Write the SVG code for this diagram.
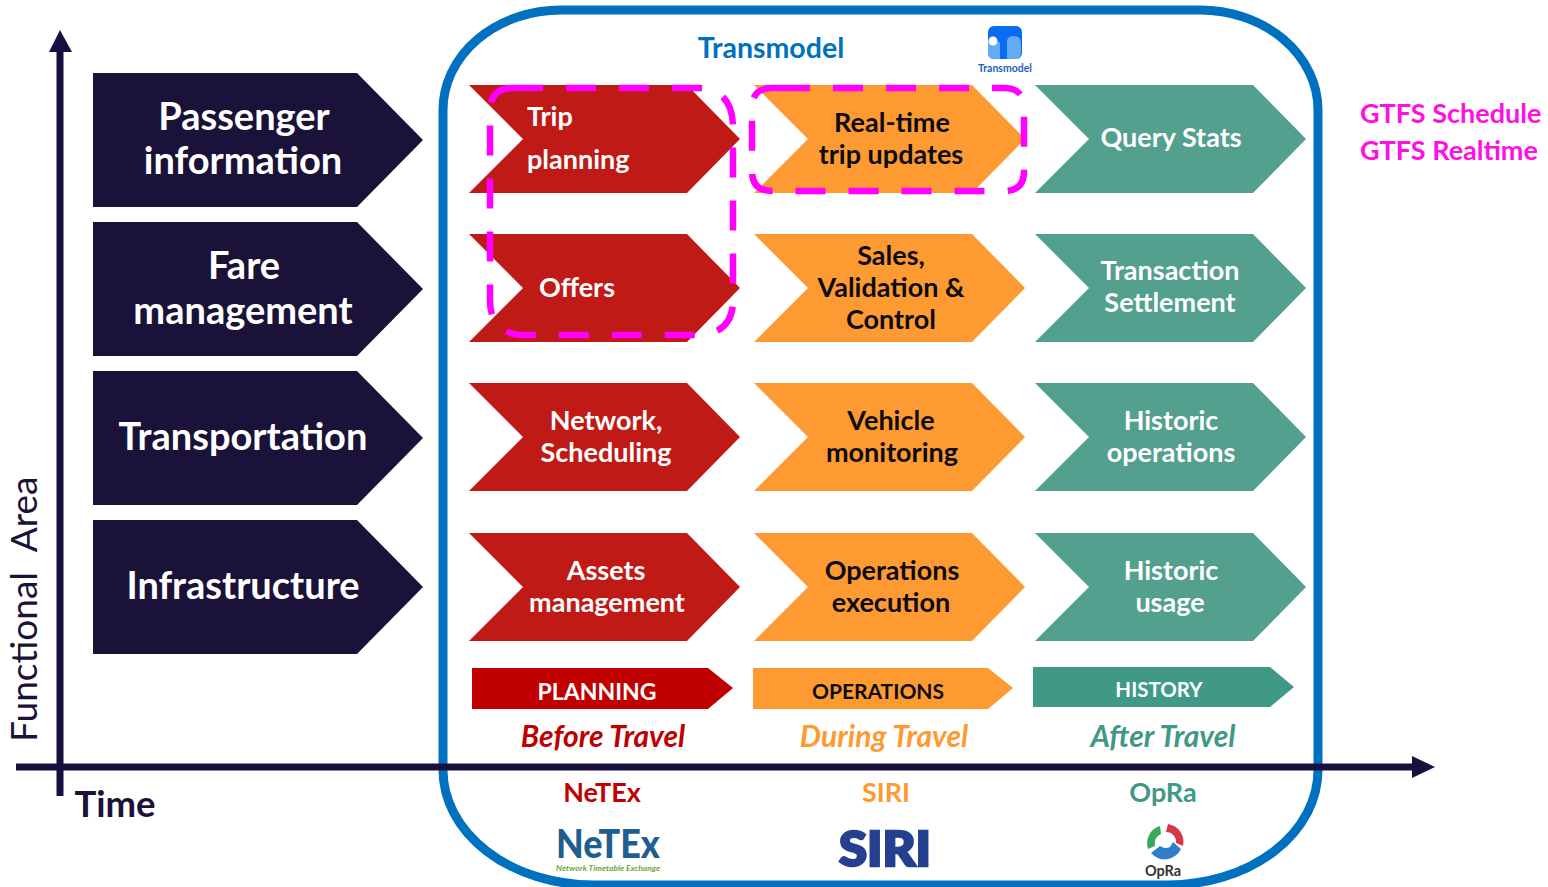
<svg xmlns="http://www.w3.org/2000/svg" width="1548" height="887" viewBox="0 0 1548 887">
<style>
text{font-family:"Lato","Carlito","Open Sans",sans-serif;font-weight:700;text-anchor:middle}
.dk{fill:#1a1238}.red{fill:#c01a17}.org{fill:#fe9a32}.grn{fill:#53a08e}
.big{font-size:38px;fill:#fff}.w{font-size:27px;fill:#fff}.b{font-size:27px;fill:#0c0c0c}
.i{font-size:30px;font-style:italic}.h{font-size:27px}
.mag{fill:none;stroke:#f0f;stroke-width:6.500;stroke-dasharray:30 23}
.ax{fill:none;stroke:#1a1040;stroke-width:7}
.l{font-size:27px;fill:#ff10e0;text-anchor:start}
</style>
<defs>
<path id="dark" d="M0 0H264L330 67L264 134H0Z"/>
<path id="chev" d="M0 0H218L271 54L218 108H0L54 54Z"/>
</defs>
<rect width="1548" height="887" fill="#fff"/>
<g id="connectors">
<path class="ax" d="M60 45V796"/><path d="M49 52L60 30L72 52Z" fill="#1a1040"/>
</g>
<g id="frame"><path d="M561 10H1200A118 100 0 0 1 1318 110V770A150 115 0 0 1 1168 885H593A150 115 0 0 1 443 770V110A118 100 0 0 1 561 10Z" fill="none" stroke="#0070c0" stroke-width="9"/></g>
<g id="connectors2"><path class="ax" d="M16 767H1415"/><path d="M1412 756L1435 767L1412 778Z" fill="#1a1040"/></g>
<g id="a-passenger"><use href="#dark" class="dk" x="93" y="73"/><text class="big" x="244" y="130">Passenger</text><text class="big" x="243" y="174">information</text></g>
<g id="a-fare"><use href="#dark" class="dk" x="93" y="222"/><text class="big" x="244" y="279">Fare</text><text class="big" x="243" y="324">management</text></g>
<g id="a-transport"><use href="#dark" class="dk" x="93" y="371"/><text class="big" x="243" y="450">Transportation</text></g>
<g id="a-infra"><use href="#dark" class="dk" x="93" y="520"/><text class="big" x="243" y="599">Infrastructure</text></g>

<g id="n-trip"><use href="#chev" class="red" x="469" y="85"/><text class="w" x="527" y="126" style="text-anchor:start">Trip</text><text class="w" x="527" y="169" style="text-anchor:start">planning</text></g>
<g id="n-offers"><use href="#chev" class="red" x="469" y="234"/><text class="w" x="577" y="297">Offers</text></g>
<g id="n-network"><use href="#chev" class="red" x="469" y="383"/><text class="w" x="606" y="430">Network,</text><text class="w" x="606" y="462">Scheduling</text></g>
<g id="n-assets"><use href="#chev" class="red" x="469" y="533"/><text class="w" x="606" y="580">Assets</text><text class="w" x="607" y="612">management</text></g>

<g id="n-realtime"><use href="#chev" class="org" x="754" y="85"/><text class="b" x="892" y="132">Real-time</text><text class="b" x="891" y="164">trip updates</text></g>
<g id="n-sales"><use href="#chev" class="org" x="754" y="234"/><text class="b" x="891" y="265">Sales,</text><text class="b" x="891" y="297">Validation &amp;</text><text class="b" x="891" y="329">Control</text></g>
<g id="n-vehicle"><use href="#chev" class="org" x="754" y="383"/><text class="b" x="891" y="430">Vehicle</text><text class="b" x="892" y="462">monitoring</text></g>
<g id="n-opexec"><use href="#chev" class="org" x="754" y="533"/><text class="b" x="892" y="580">Operations</text><text class="b" x="891" y="612">execution</text></g>

<g id="n-query"><use href="#chev" class="grn" x="1035" y="85"/><text class="w" x="1171" y="147">Query Stats</text></g>
<g id="n-transaction"><use href="#chev" class="grn" x="1035" y="234"/><text class="w" x="1170" y="280">Transaction</text><text class="w" x="1170" y="312">Settlement</text></g>
<g id="n-histop"><use href="#chev" class="grn" x="1035" y="383"/><text class="w" x="1171" y="430">Historic</text><text class="w" x="1171" y="462">operations</text></g>
<g id="n-histus"><use href="#chev" class="grn" x="1035" y="533"/><text class="w" x="1171" y="580">Historic</text><text class="w" x="1170" y="612">usage</text></g>

<g id="b-planning"><path d="M472 668H708L733 688L708 709H472Z" fill="#c00000"/><text x="597" y="700" font-size="23" fill="#fff">PLANNING</text></g>
<g id="b-operations"><path d="M753 668H988L1013 688L988 709H753Z" fill="#fe9a32"/><text x="878" y="699" font-size="21" fill="#0c0c0c">OPERATIONS</text></g>
<g id="b-history"><path d="M1033 667H1270L1294 687L1270 707H1033Z" fill="#409887"/><text x="1159" y="697" font-size="20.500" fill="#fff">HISTORY</text></g>

<text class="i" x="603" y="747" fill="#c00000">Before Travel</text>
<text class="i" x="884" y="747" fill="#fe9a32">During Travel</text>
<text class="i" x="1163" y="747" fill="#409887">After Travel</text>

<g id="dash-left"><path class="mag" d="M513 88H700Q733 90 733 128V300Q733 335 695 335H525Q490 335 490 300V112Q490 88 513 88Z"/></g>
<g id="dash-right"><path class="mag" d="M780 88H1004Q1024 88 1024 108V171Q1024 191 1004 191H772Q752 191 752 171V108Q752 88 772 88Z"/></g>

<text x="771" y="58" font-size="28.500" fill="#0070c0">Transmodel</text>
<g id="logo-transmodel">
<rect x="988" y="26" width="34" height="33" rx="6" fill="#0a6cf0"/>
<path d="M1007 59V42Q1007 36 1013 36Q1021 36 1021 44V53Q1021 59 1015 59ZM988 42H1000V59H994Q988 59 988 53Z" fill="#64aaf5"/>
<circle cx="993" cy="41" r="4.500" fill="#fff"/>
<text x="1005" y="72" font-size="10.500" fill="#1d5fc0">Transmodel</text>
</g>

<text class="l" x="1360" y="123">GTFS Schedule</text>
<text class="l" x="1360" y="160">GTFS Realtime</text>

<text x="115" y="817" font-size="36.500" fill="#1a1238">Time</text>
<text transform="translate(37 742) rotate(-90)" font-size="37" fill="#1a1238" style="text-anchor:start;font-weight:400;word-spacing:1px" xml:space="preserve">Functional  Area</text>

<text class="h" x="602" y="802" fill="#c00000">NeTEx</text>
<text class="h" x="886" y="802" fill="#fe9a32">SIRI</text>
<text class="h" x="1163" y="802" fill="#409887">OpRa</text>

<g id="logo-netex"><text x="608" y="858" font-size="40" style="font-weight:900" fill="#1f5f8f" textLength="104" lengthAdjust="spacingAndGlyphs">NeTEx</text><text x="608" y="871" font-size="7.500" font-style="italic" fill="#6aa83a" textLength="104" lengthAdjust="spacingAndGlyphs">Network Timetable Exchange</text></g>
<g id="logo-siri"><text x="885" y="866" font-size="47" style="font-weight:900" fill="#24408e" stroke="#24408e" stroke-width="2.500" textLength="92" lengthAdjust="spacingAndGlyphs">SIRI</text></g>
<g id="logo-opra">
<path d="M1168 824A18 18 0 0 1 1183 846L1176 843A10 10 0 0 0 1166 832Z" fill="#d23a4a"/>
<path d="M1160 826L1161 834A10 10 0 0 0 1155 846L1148 849A18 18 0 0 1 1160 826Z" fill="#3aa85a"/>
<path d="M1181 849A18 18 0 0 1 1151 853L1160 846A10 10 0 0 0 1170 847L1173 842Z" fill="#2f7fc8"/>
<text x="1163" y="876" font-size="14.500" fill="#333">OpRa</text>
</g>
</svg>
